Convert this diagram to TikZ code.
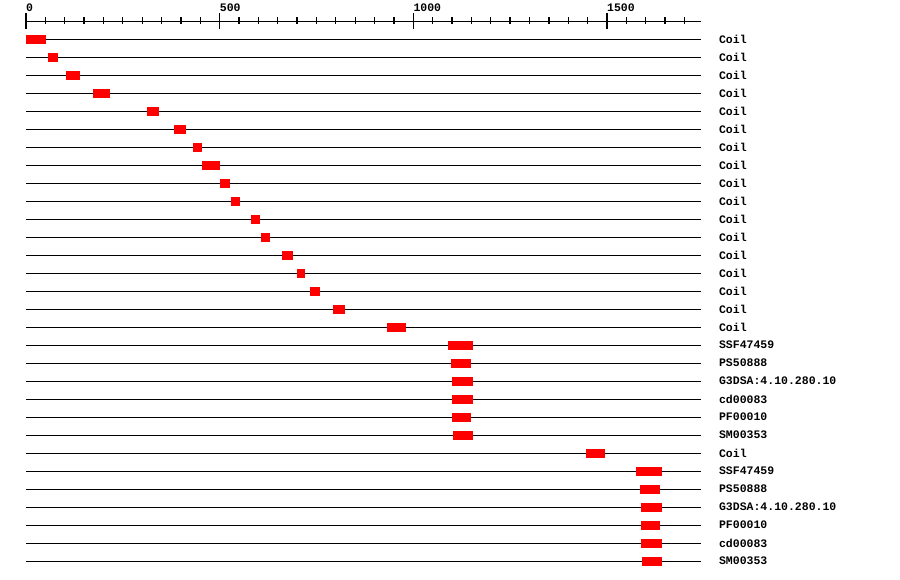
\documentclass[tikz,border=0pt]{standalone}
\usepackage{fontspec}
\newfontfamily\monofont{Liberation Mono}
\begin{document}
\begin{tikzpicture}[x=1pt,y=-1pt,
  track/.style={line width=1.3pt},
  hitbox/.style={fill=red},
  lbl/.style={font=\monofont\bfseries\fontsize{11.5}{12}\selectfont, anchor=west, inner sep=0pt}]
\useasboundingbox (0,0) rectangle (900,580);
\begin{scope}[xshift=26pt, x=0.3873pt]
% ruler
\draw[track] (0,21.5) -- (1743,21.5);
\foreach \t in {0,50,...,1700}
    \draw[track] (\t,17.5) -- (\t,24.5);
\foreach \t in {0,500,1000,1500}
{
    \draw[track] (\t,13.3) -- (\t,28.7);
    \node[lbl, anchor=base west] (r\t) at (\t,12) {\t};
}
% tracks
\foreach \a/\b/\name [count=\i] in {0/52/Coil,57/83/Coil,103/140/Coil,173/217/Coil,312/344/Coil,
    382/413/Coil,431/454/Coil,454/501/Coil,501/527/Coil,529/552/Coil,581/604/Coil,607/630/Coil,
    661/689/Coil,700/720/Coil,733/759/Coil,793/824/Coil,932/981/Coil,1090/1154/SSF47459,
    1097/1149/PS50888,1100/1154/G3DSA:4.10.280.10,1100/1154/cd00083,1100/1149/PF00010,
    1102/1154/SM00353,1446/1495/Coil,1575/1642/SSF47459,1585/1637/PS50888,
    1588/1642/G3DSA:4.10.280.10,1588/1637/PF00010,1588/1642/cd00083,1590/1642/SM00353}
{
    \pgfmathsetmacro\y{39.5+18*(\i-1)}
    \coordinate (s\i) at (0,\y);
    \coordinate (e\i) at (1743,\y);
    \draw[track] (s\i) -- (e\i);
    \fill[hitbox] (\a,\y-4.3) rectangle (\b,\y+4.3);
    \node[lbl] (l\i) at (1789,\y-0.5) {\name};
}
\end{scope}
\end{tikzpicture}
\end{document}
